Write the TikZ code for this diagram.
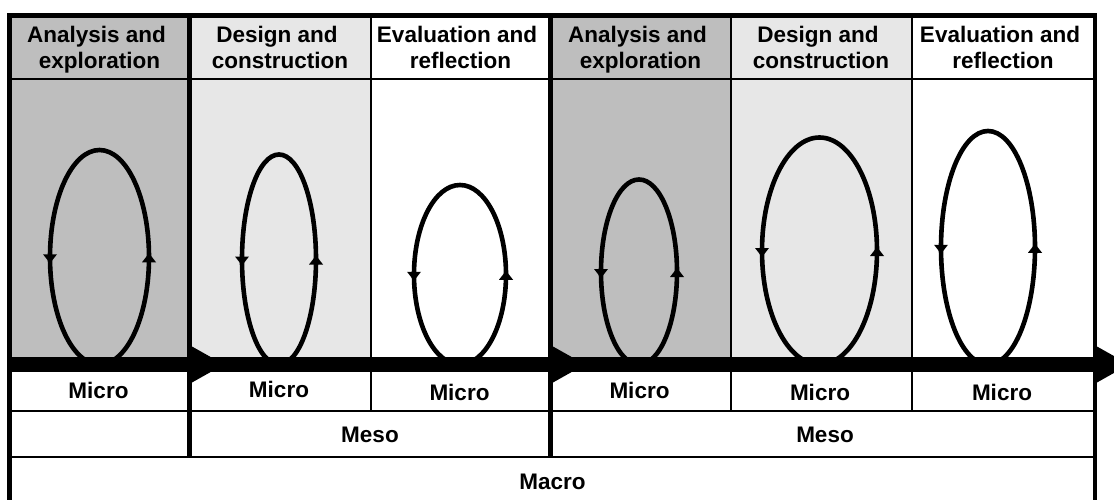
\documentclass[tikz,border=0pt]{standalone}
\usepackage{fontspec}
\setmainfont{Liberation Sans}
\usetikzlibrary{shapes.geometric}

\definecolor{phaseA}{gray}{0.745}
\definecolor{phaseB}{gray}{0.905}

\tikzset{
  lbl/.style={font=\fontsize{22.5}{25.5}\selectfont\bfseries, inner sep=0pt, anchor=base},
  loop/.style={ellipse, draw, line width=4.6pt, inner sep=0pt, outer sep=0pt},
  hairrule/.style={line width=2pt},
  heavyrule/.style={line width=5pt},
  frame/.style={line width=4.5pt},
  pics/dnhead/.style={code={\fill (-7,-3) -- (7,-3) -- (0,6) -- cycle;}},
  pics/uphead/.style={code={\fill (-7,5) -- (7,5) -- (0,-4) -- cycle;}},
}

\begin{document}
\begin{tikzpicture}[x=1pt,y=-1pt]
\useasboundingbox (0,0) rectangle (1114,500);
\clip (0,0) rectangle (1114,500);

% column shading
\fill[phaseA] (9.5,15.5) rectangle (189.5,357);
\fill[phaseB] (189.5,15.5) rectangle (370.5,357);
\fill[phaseA] (550.5,15.5) rectangle (730.5,357);
\fill[phaseB] (730.5,15.5) rectangle (911.5,357);

% horizontal rules
\draw[hairrule] (9.5,79) -- (1095,79);
\draw[hairrule] (9.5,411) -- (1095,411);
\draw[hairrule] (9.5,457) -- (1095,457);

% column dividers
\foreach \cx in {370.5,730.5,911.5}
  \draw[hairrule] (\cx,15.5) -- (\cx,411);
\foreach \cx in {189.5,550.5}
  \draw[heavyrule] (\cx,15.5) -- (\cx,457);

% iteration loops
\node[loop, minimum width=99pt,  minimum height=214.5pt] (e1) at (99.5,257.25) {};
\node[loop, minimum width=74pt,  minimum height=210pt]   (e2) at (279,259.5) {};
\node[loop, minimum width=92pt,  minimum height=179.5pt] (e3) at (460,274.75) {};
\node[loop, minimum width=76pt,  minimum height=185pt]   (e4) at (639,272) {};
\node[loop, minimum width=115pt, minimum height=227pt]   (e5) at (819.5,251) {};
\node[loop, minimum width=94pt,  minimum height=233.5pt] (e6) at (988,247.75) {};
\foreach \e in {e1,e2,e3,e4,e5,e6}{
  \pic at (\e.west) {dnhead};
  \pic at (\e.east) {uphead};
}

% time axis
\fill (9.5,357) rectangle (1097,372);
\foreach \bx in {192,553,1097}
  \fill (\bx,346.5) -- (\bx+32,364.5) -- (\bx,382.5) -- cycle;

% outer frame
\draw[frame] (9.5,520) -- (9.5,15.5) -- (1095,15.5) -- (1095,520);

% phase headings
\node[lbl] (h1a) at (96.5,42.7) {Analysis and};
\node[lbl] (h1b) at (99.5,68.5) {exploration};
\node[lbl] (h2a) at (277,42.7) {Design and};
\node[lbl] (h2b) at (280,68.5) {construction};
\node[lbl] (h3a) at (457,42.7) {Evaluation and};
\node[lbl] (h3b) at (460.5,68.5) {reflection};
\node[lbl] (h4a) at (637.5,42.7) {Analysis and};
\node[lbl] (h4b) at (640.5,68.5) {exploration};
\node[lbl] (h5a) at (818,42.7) {Design and};
\node[lbl] (h5b) at (821,68.5) {construction};
\node[lbl] (h6a) at (1000,42.7) {Evaluation and};
\node[lbl] (h6b) at (1003,68.5) {reflection};

% levels
\node[lbl] (m1) at (98.5,398) {Micro};
\node[lbl] (m2) at (279,397.5) {Micro};
\node[lbl] (m3) at (459.5,400.5) {Micro};
\node[lbl] (m4) at (639.5,398) {Micro};
\node[lbl] (m5) at (820,400.5) {Micro};
\node[lbl] (m6) at (1002,400.5) {Micro};
\node[lbl] (s1) at (370,442.7) {Meso};
\node[lbl] (s2) at (825,442.7) {Meso};
\node[lbl] (mac) at (552.5,489) {Macro};
\end{tikzpicture}
\end{document}
